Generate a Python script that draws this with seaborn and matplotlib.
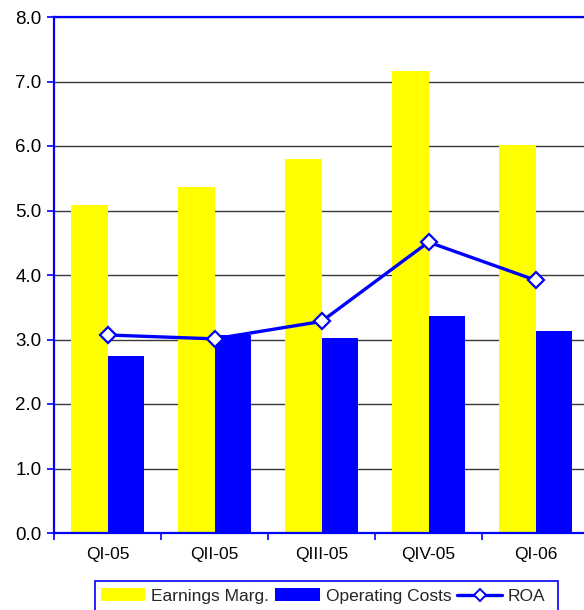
import numpy as np
import pandas as pd
import matplotlib
matplotlib.use("Agg")
import matplotlib.pyplot as plt
from matplotlib.patches import Patch, Rectangle
from matplotlib.lines import Line2D
from matplotlib.ticker import MultipleLocator, FixedLocator, FuncFormatter
import seaborn as sns

quarters = ["QI-05", "QII-05", "QIII-05", "QIV-05", "QI-06"]
earnings_marg = [5.08, 5.36, 5.80, 7.17, 6.02]
operating_costs = [2.74, 3.07, 3.03, 3.36, 3.13]
roa = [3.07, 3.01, 3.28, 4.51, 3.92]
series_names = ["Earnings Marg.", "Operating Costs", "ROA"]

YELLOW = "#FFFF00"
BLUE = "#0000FF"
W, H = 584, 610

sns.set_theme(style="white")
plt.rcParams["font.family"] = ["Liberation Sans", "DejaVu Sans"]

bars = pd.DataFrame({
    "quarter": quarters * 2,
    "value": earnings_marg + operating_costs,
    "series": [series_names[0]] * len(quarters) + [series_names[1]] * len(quarters),
})

fig = plt.figure(figsize=(W / 100, H / 100), dpi=100)
ax = fig.add_axes([54 / W, 1 - 533 / H, 535 / W, (533 - 17) / H])

sns.barplot(data=bars, x="quarter", y="value", hue="series",
            palette=[YELLOW, BLUE], saturation=1, width=0.68,
            order=quarters, ax=ax, legend=False, zorder=2)
for p in ax.patches:
    p.set_edgecolor("none")

sns.lineplot(x=np.arange(len(quarters)), y=roa, ax=ax, color=BLUE,
             linewidth=2.4, marker="D", markersize=8.5,
             markerfacecolor="white", markeredgecolor=BLUE,
             markeredgewidth=1.6, zorder=4)

ax.set_xlim(-0.5, len(quarters) - 0.5)
ax.set_ylim(0, 8)
ax.yaxis.set_major_locator(MultipleLocator(1))
ax.yaxis.set_major_formatter(FuncFormatter(lambda v, _: f"{v:.1f}"))
ax.yaxis.grid(True, color="#3a3a3a", linewidth=1.0, zorder=0)
ax.set_axisbelow(True)
ax.set_xlabel("")
ax.set_ylabel("")

for side in ["left", "bottom", "top"]:
    ax.spines[side].set_color(BLUE)
    ax.spines[side].set_linewidth(1.6)
ax.spines["right"].set_visible(False)

ax.tick_params(axis="y", which="major", direction="out", length=5,
               width=1.2, color=BLUE, labelsize=13.5, labelcolor="black", pad=4,
               left=True)
ax.tick_params(axis="x", which="major", length=0, labelsize=12.5,
               labelcolor="black", pad=10)
ax.xaxis.set_minor_locator(FixedLocator(np.arange(-0.5, len(quarters), 1.0)))
ax.tick_params(axis="x", which="minor", direction="out", length=5,
               width=1.2, color=BLUE, bottom=True)

# legend box: open at the bottom edge of the figure
fig.patches.append(Rectangle((95 / W, -0.02), (558 - 95) / W, 0.02 + 1 - 581 / H,
                             transform=fig.transFigure, facecolor="white",
                             edgecolor=BLUE, linewidth=1.2))

handles = [
    Patch(facecolor=YELLOW, edgecolor="none"),
    Patch(facecolor=BLUE, edgecolor="none"),
    Line2D([], [], color=BLUE, linewidth=2.4, marker="D", markersize=6.5,
           markerfacecolor="white", markeredgecolor=BLUE, markeredgewidth=1.4),
]
leg = fig.legend(handles, series_names, loc="center left",
                 bbox_to_anchor=(101 / W, 1 - 596 / H), ncol=3,
                 fontsize=12.5, frameon=False,
                 handlelength=2.55, handletextpad=0.35, columnspacing=0.35,
                 borderpad=0, borderaxespad=0)

fig.savefig("out.png", dpi=100)
